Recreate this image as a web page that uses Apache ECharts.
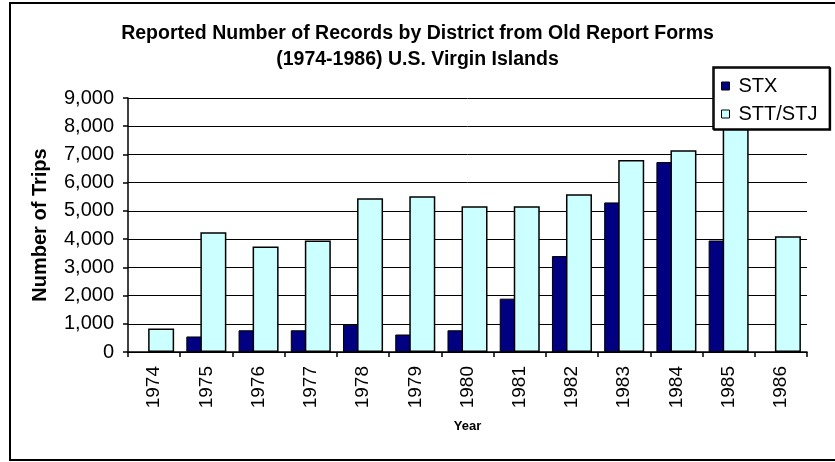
<!DOCTYPE html>
<html>
<head>
<meta charset="utf-8">
<script src="https://cdn.jsdelivr.net/npm/echarts@6/dist/echarts.min.js"></script>
<style>
  html, body { margin: 0; padding: 0; background: #fff; }
  #chart { width: 835px; height: 462px; }
</style>
</head>
<body>
<div id="chart"></div>
<script>
// data
var years = ['1974', '1975', '1976', '1977', '1978', '1979', '1980', '1981', '1982', '1983', '1984', '1985', '1986'];
var stx = [null, 550, 770, 770, 970, 620, 770, 1890, 3400, 5300, 6730, 3950, null];
var sttStj = [830, 4240, 3740, 3950, 5450, 5520, 5160, 5160, 5590, 6800, 7150, 8400, 4100];

var font = 'Arial, "Liberation Sans", sans-serif';

var chart = echarts.init(document.getElementById('chart'));
var option = {
  backgroundColor: '#fff',
  animation: false,
  textStyle: { fontFamily: font, color: '#000' },
  title: {
    text: 'Reported Number of Records by District from Old Report Forms\n(1974-1986) U.S. Virgin Islands',
    left: 'center',
    top: 21,
    padding: 0,
    textStyle: { fontFamily: font, fontSize: 19.5, fontWeight: 'bold', color: '#000', lineHeight: 26 }
  },
  graphic: [{
    type: 'rect',
    shape: { x: 10, y: 3, width: 830, height: 457 },
    style: { fill: null, stroke: '#000', lineWidth: 2 },
    silent: true
  }],
  legend: {
    orient: 'vertical',
    left: 713,
    top: 67,
    width: 114,
    padding: [9, 12, 5, 8],
    itemGap: 8,
    itemWidth: 8,
    itemHeight: 8,
    backgroundColor: '#fff',
    borderColor: '#000',
    borderWidth: 1.5,
    shadowColor: '#000',
    shadowOffsetX: 1,
    shadowOffsetY: 1,
    icon: 'rect',
    itemStyle: { borderColor: '#000', borderWidth: 1 },
    textStyle: { fontFamily: font, fontSize: 20, color: '#000', padding: [0, 0, 0, 4] },
    data: ['STX', 'STT/STJ']
  },
  grid: { left: 128, right: 28, top: 98, bottom: 110 },
  xAxis: {
    type: 'category',
    data: years,
    name: 'Year',
    nameLocation: 'middle',
    nameGap: 68,
    nameTextStyle: { fontFamily: font, fontSize: 13, fontWeight: 'bold', color: '#000' },
    axisLine: { lineStyle: { color: '#000', width: 1.5 } },
    axisTick: { show: true, length: 5, inside: false, lineStyle: { color: '#000', width: 1.5 } },
    axisLabel: { rotate: 90, fontFamily: font, fontSize: 19, color: '#000', margin: 14, interval: 0 }
  },
  yAxis: {
    type: 'value',
    min: 0,
    max: 9000,
    interval: 1000,
    name: 'Number of Trips',
    nameLocation: 'middle',
    nameRotate: 90,
    nameGap: 78,
    nameTextStyle: { fontFamily: font, fontSize: 20, fontWeight: 'bold', color: '#000' },
    axisLine: { show: true, lineStyle: { color: '#000', width: 1.5 } },
    axisTick: { show: true, length: 5, lineStyle: { color: '#000', width: 1.5 } },
    axisLabel: {
      fontFamily: font, fontSize: 20, color: '#000', margin: 14,
      formatter: function (v) { return v.toLocaleString('en-US'); }
    },
    splitLine: { show: true, lineStyle: { color: '#000', width: 1 } }
  },
  series: [
    {
      name: 'STX',
      type: 'bar',
      data: stx,
      barWidth: 26,
      barGap: '-46%',
      itemStyle: { color: '#000080', borderColor: '#000', borderWidth: 1 }
    },
    {
      name: 'STT/STJ',
      type: 'bar',
      data: sttStj,
      barWidth: 26,
      barGap: '-46%',
      itemStyle: { color: '#CCFFFF', borderColor: '#000', borderWidth: 1.5 }
    }
  ]
};
chart.setOption(option);
</script>
</body>
</html>
